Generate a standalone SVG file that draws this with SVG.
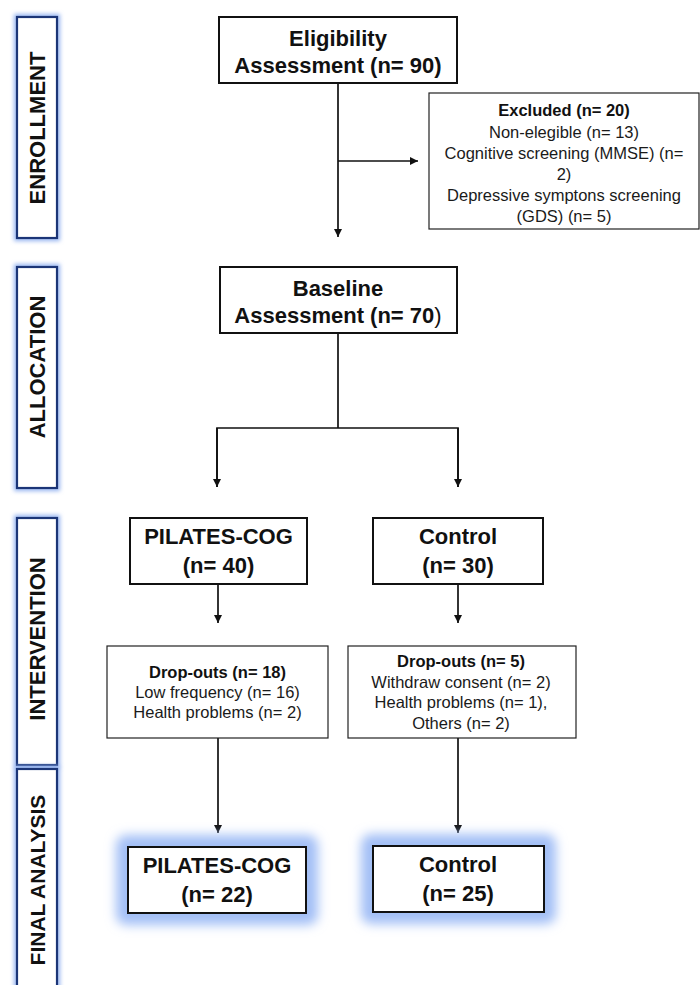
<svg xmlns="http://www.w3.org/2000/svg" width="700" height="985" viewBox="0 0 700 985">
<defs>
<style>
.lbl{fill:#fff;stroke:#1b3577;stroke-width:2.2}
.lglow{fill:none;stroke:#94b3f0;stroke-width:6}
.box{fill:#fff;stroke:#111;stroke-width:2}
.sbox{fill:#fff;stroke:#222;stroke-width:1.2}
.fglow{fill:#a3bff6}
.big{font-family:"Liberation Sans",Arial,sans-serif;font-weight:bold;font-size:22px;fill:#111;text-anchor:middle}
.sm{font-family:"Liberation Sans",Arial,sans-serif;font-size:16.5px;fill:#1a1a1a;text-anchor:middle}
.smb{font-family:"Liberation Sans",Arial,sans-serif;font-size:16.5px;font-weight:bold;fill:#111;text-anchor:middle}
.vt{font-family:"Liberation Sans",Arial,sans-serif;font-weight:bold;font-size:22px;fill:#111;text-anchor:middle}
.con{fill:none;stroke:#111;stroke-width:1.7}
</style>
<filter id="blurS" x="-50%" y="-20%" width="200%" height="140%"><feGaussianBlur stdDeviation="2"/></filter>
<filter id="blurL" x="-30%" y="-60%" width="160%" height="220%"><feGaussianBlur stdDeviation="5.5"/></filter>
<marker id="arr" viewBox="0 0 10 10" refX="10" refY="5" markerWidth="8" markerHeight="8" markerUnits="userSpaceOnUse" orient="auto">
<path d="M0,0 L10,5 L0,10 Z" fill="#111"/>
</marker>
</defs>
<rect width="700" height="985" fill="#fff"/>

<g id="label-enrollment">
<rect class="lglow" x="17" y="17" width="40" height="221" filter="url(#blurS)"/>
<rect class="lbl" x="17" y="17" width="40" height="221"/>
<text class="vt" transform="translate(45,128) rotate(-90)">ENROLLMENT</text>
</g>
<g id="label-allocation">
<rect class="lglow" x="17" y="267" width="40" height="221" filter="url(#blurS)"/>
<rect class="lbl" x="17" y="267" width="40" height="221"/>
<text class="vt" transform="translate(45,367) rotate(-90)">ALLOCATION</text>
</g>
<g id="label-intervention">
<rect class="lglow" x="17" y="518" width="40" height="247" filter="url(#blurS)"/>
<rect class="lbl" x="17" y="518" width="40" height="247"/>
<text class="vt" transform="translate(45,639) rotate(-90)">INTERVENTION</text>
</g>
<g id="label-final">
<rect class="lglow" x="17" y="769" width="40" height="230" filter="url(#blurS)"/>
<rect class="lbl" x="17" y="769" width="40" height="230"/>
<text class="vt" style="font-size:21px" transform="translate(44.5,880) rotate(-90)">FINAL ANALYSIS</text>
</g>

<g id="connectors">
<line class="con" x1="338" y1="83" x2="338" y2="237" marker-end="url(#arr)"/>
<line class="con" x1="338" y1="161" x2="418" y2="161" marker-end="url(#arr)"/>
<line class="con" x1="338" y1="333" x2="338" y2="428"/>
<polyline class="con" points="217,487 217,428 458,428 458,487"/>
<line class="con" x1="217" y1="428" x2="217" y2="487" marker-end="url(#arr)"/>
<line class="con" x1="458" y1="428" x2="458" y2="487" marker-end="url(#arr)"/>
<line class="con" x1="218" y1="584" x2="218" y2="623" marker-end="url(#arr)"/>
<line class="con" x1="458" y1="584" x2="458" y2="623" marker-end="url(#arr)"/>
<line class="con" x1="218" y1="738" x2="218" y2="833" marker-end="url(#arr)"/>
<line class="con" x1="458" y1="738" x2="458" y2="833" marker-end="url(#arr)"/>
</g>

<g id="eligibility">
<rect class="box" x="219" y="17" width="238" height="66"/>
<text class="big" x="338" y="46">Eligibility</text>
<text class="big" x="338" y="73">Assessment (n= 90)</text>
</g>

<g id="excluded">
<rect class="sbox" x="429" y="93" width="270" height="136"/>
<text class="smb" x="564" y="116">Excluded (n= 20)</text>
<text class="sm" x="564" y="137.5">Non-elegible (n= 13)</text>
<text class="sm" x="564" y="158.5">Cognitive screening (MMSE) (n=</text>
<text class="sm" x="564" y="179.5">2)</text>
<text class="sm" x="564" y="201">Depressive symptons screening</text>
<text class="sm" x="564" y="222">(GDS) (n= 5)</text>
</g>

<g id="baseline">
<rect class="box" x="220" y="267" width="237" height="66"/>
<text class="big" x="338" y="296">Baseline</text>
<text class="big" x="338" y="323">Assessment (n= 70<tspan style="font-weight:normal">)</tspan></text>
</g>

<g id="pilates-int">
<rect class="box" x="130" y="518" width="177" height="66"/>
<text class="big" x="218.5" y="544">PILATES-COG</text>
<text class="big" x="218.5" y="573">(n= 40)</text>
</g>

<g id="control-int">
<rect class="box" x="373" y="518" width="170" height="66"/>
<text class="big" x="458" y="544">Control</text>
<text class="big" x="458" y="573">(n= 30)</text>
</g>

<g id="dropouts-pilates">
<rect class="sbox" x="107" y="646" width="221" height="92"/>
<text class="smb" x="217.5" y="678">Drop-outs (n= 18)</text>
<text class="sm" x="217.5" y="698">Low frequency (n= 16)</text>
<text class="sm" x="217.5" y="718">Health problems (n= 2)</text>
</g>

<g id="dropouts-control">
<rect class="sbox" x="348" y="646" width="228" height="92"/>
<text class="smb" x="461" y="667">Drop-outs (n= 5)</text>
<text class="sm" x="461" y="687.5">Withdraw consent (n= 2)</text>
<text class="sm" x="461" y="708">Health problems (n= 1),</text>
<text class="sm" x="461" y="728.5">Others (n= 2)</text>
</g>

<g id="pilates-final">
<rect class="fglow" x="116" y="835" width="202" height="90" rx="10" filter="url(#blurL)"/>
<rect class="box" x="128" y="847" width="178" height="66"/>
<text class="big" x="217" y="873">PILATES-COG</text>
<text class="big" x="217" y="902">(n= 22)</text>
</g>

<g id="control-final">
<rect class="fglow" x="361" y="834" width="195" height="90" rx="10" filter="url(#blurL)"/>
<rect class="box" x="373" y="846" width="171" height="66"/>
<text class="big" x="458" y="872">Control</text>
<text class="big" x="458" y="901">(n= 25)</text>
</g>
</svg>
